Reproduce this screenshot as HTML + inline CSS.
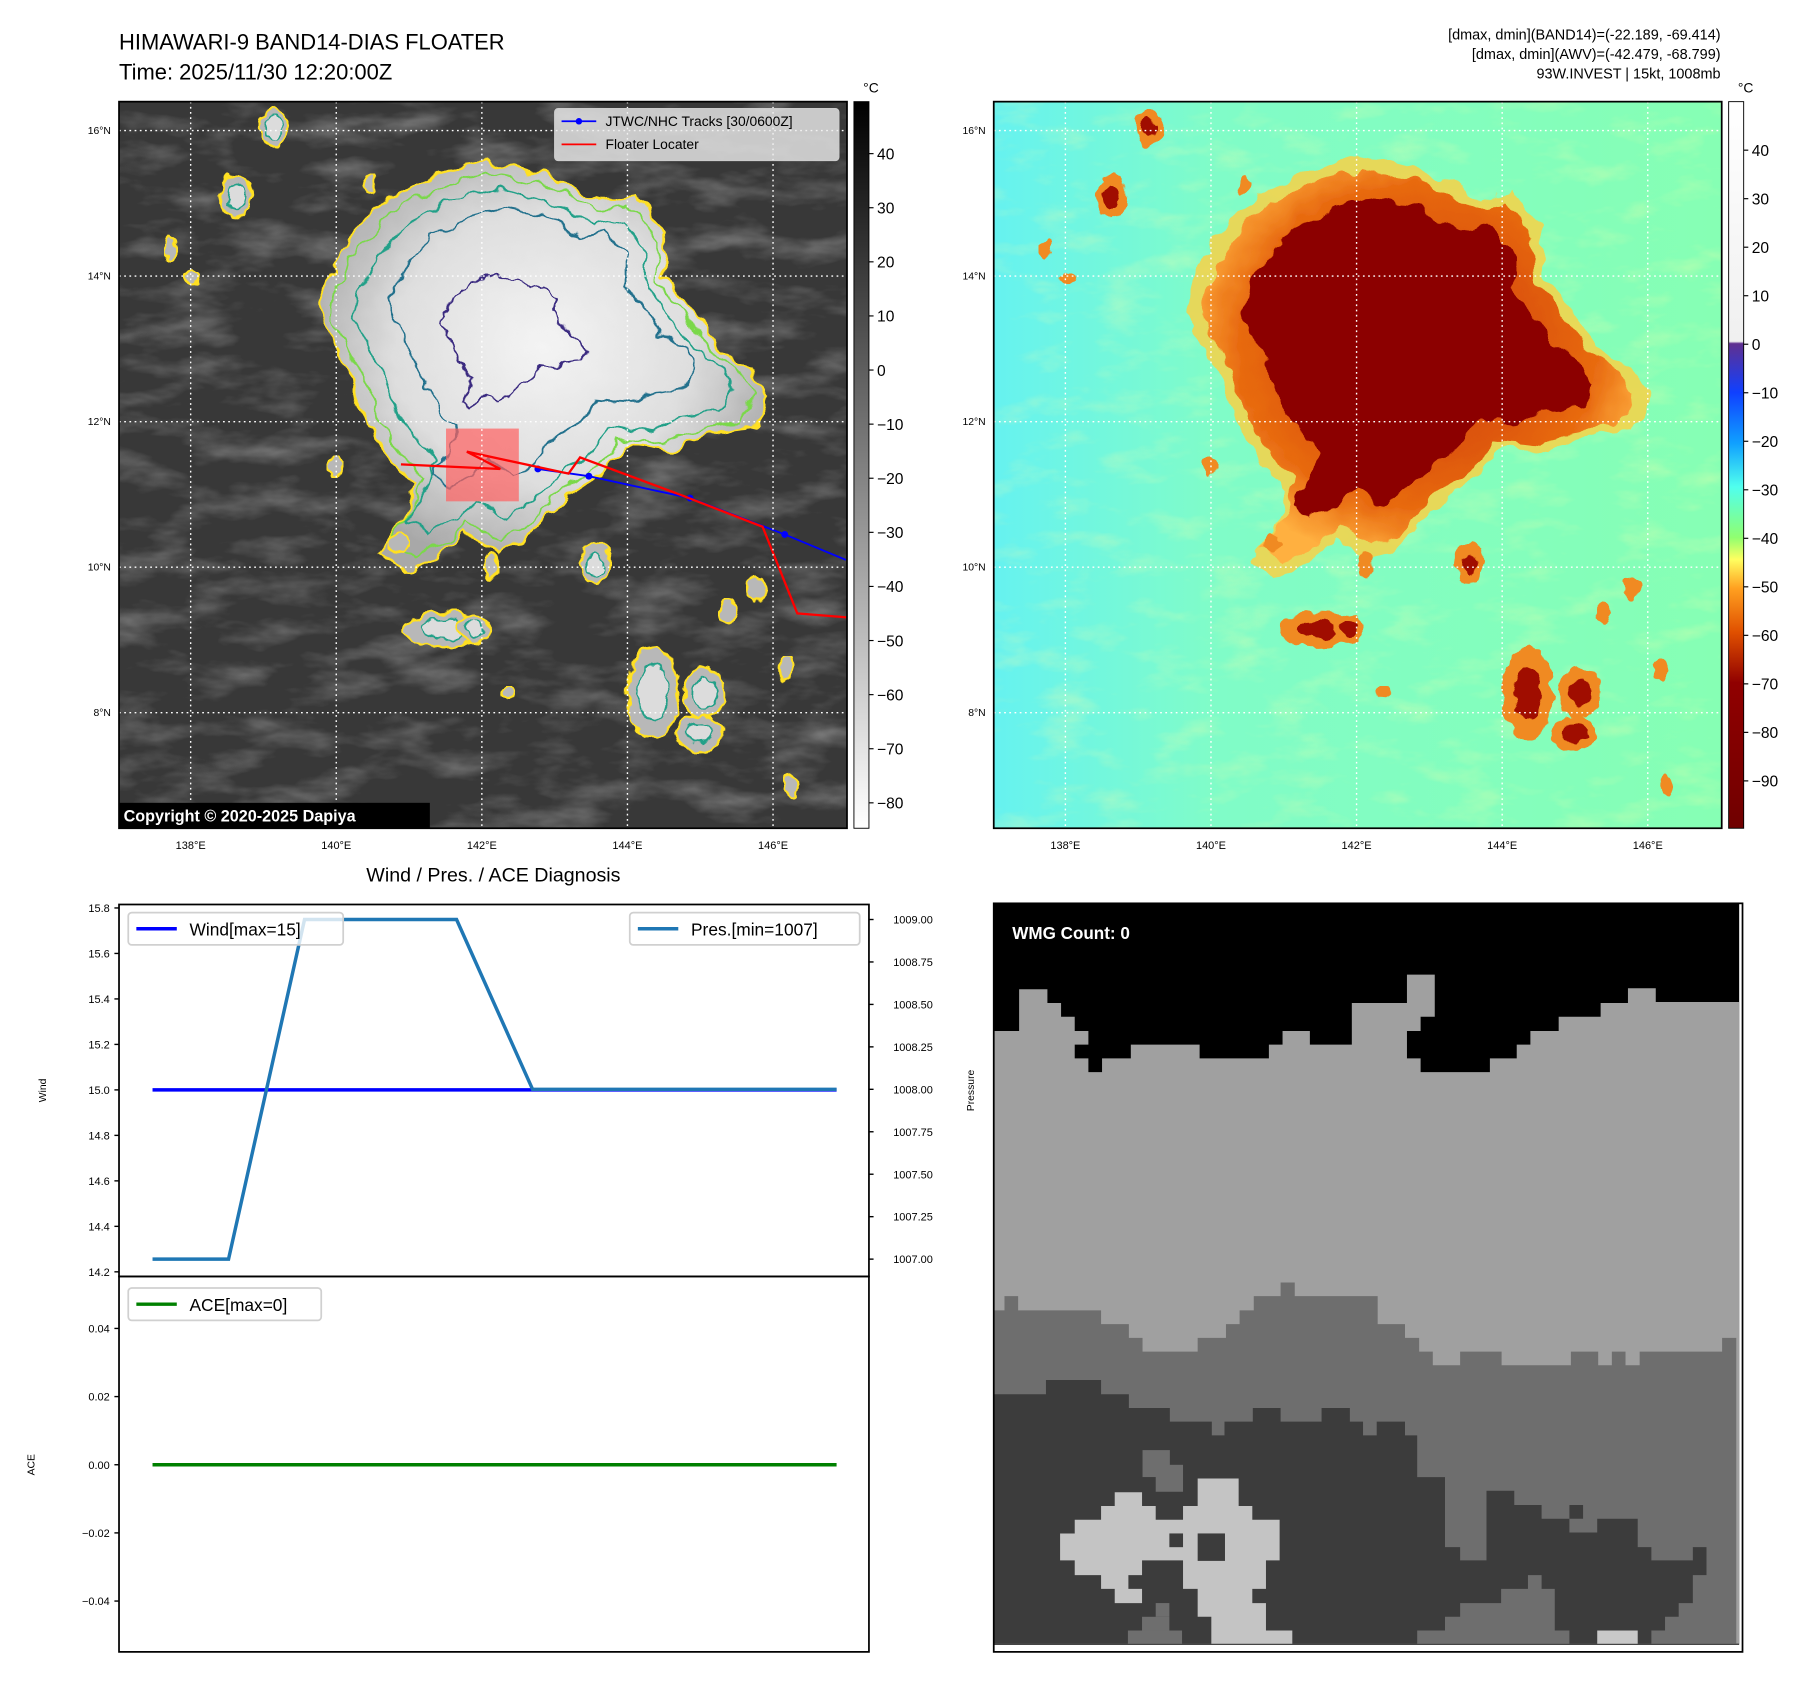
<!DOCTYPE html>
<html><head><meta charset="utf-8"><style>
html,body{margin:0;padding:0;background:#fff;}
svg{display:block;font-family:"Liberation Sans","DejaVu Sans",sans-serif;}
</style></head><body>
<svg id="fig" width="1813" height="1690" viewBox="0 0 1569 1463" preserveAspectRatio="none" xmlns="http://www.w3.org/2000/svg">
<defs>
<filter id="wob" x="-10%" y="-10%" width="120%" height="120%"><feTurbulence type="fractalNoise" baseFrequency="0.06" numOctaves="2" seed="3"/><feDisplacementMap in="SourceGraphic" scale="14" xChannelSelector="R" yChannelSelector="G"/></filter>
<filter id="wob2" x="-10%" y="-10%" width="120%" height="120%"><feTurbulence type="fractalNoise" baseFrequency="0.09" numOctaves="2" seed="7"/><feDisplacementMap in="SourceGraphic" scale="10" xChannelSelector="R" yChannelSelector="G"/></filter>
<filter id="tex"><feTurbulence type="fractalNoise" baseFrequency="0.015 0.04" numOctaves="4" seed="5"/><feColorMatrix type="matrix" values="0 0 0 0 1  0 0 0 0 1  0 0 0 0 1  1.2 0 0 0 -0.55"/></filter>
<filter id="tex2"><feTurbulence type="fractalNoise" baseFrequency="0.02 0.05" numOctaves="4" seed="9"/><feColorMatrix type="matrix" values="0 0 0 0 1  0 0 0 0 1  0 0 0 0 0.4  1.4 0 0 0 -0.7"/></filter>
<radialGradient id="stormL" cx="0.5" cy="0.45" r="0.55"><stop offset="0" stop-color="#f4f4f4"/><stop offset="0.6" stop-color="#dedede"/><stop offset="1" stop-color="#a8a8a8"/></radialGradient>
<radialGradient id="stormR" cx="0.5" cy="0.45" r="0.55"><stop offset="0" stop-color="#c83000"/><stop offset="0.75" stop-color="#e86a10"/><stop offset="1" stop-color="#ffb040"/></radialGradient>
<linearGradient id="bgR" x1="0" y1="0" x2="1" y2="0"><stop offset="0" stop-color="#66f2f0"/><stop offset="0.3" stop-color="#80fcc8"/><stop offset="1" stop-color="#86ffb4"/></linearGradient>
<linearGradient id="cbL" x1="0" y1="0" x2="0" y2="1"><stop offset="0" stop-color="#000"/><stop offset="1" stop-color="#fff"/></linearGradient>
<linearGradient id="cbR" x1="0" y1="0" x2="0" y2="1">
<stop offset="0" stop-color="#ffffff"/><stop offset="0.33" stop-color="#f0f0f0"/><stop offset="0.333" stop-color="#603090"/>
<stop offset="0.4" stop-color="#1040ff"/><stop offset="0.47" stop-color="#10a0ff"/><stop offset="0.53" stop-color="#50ffee"/>
<stop offset="0.6" stop-color="#90ff70"/><stop offset="0.63" stop-color="#ffff60"/><stop offset="0.67" stop-color="#ffa020"/>
<stop offset="0.73" stop-color="#e05000"/><stop offset="0.8" stop-color="#900000"/><stop offset="1" stop-color="#700000"/></linearGradient>
<clipPath id="clipL"><rect x="103" y="88" width="630" height="629"/></clipPath>
<clipPath id="clipR"><rect x="860" y="88" width="630" height="629"/></clipPath>
</defs>

<text x="103" y="43" font-size="19">HIMAWARI-9 BAND14-DIAS FLOATER</text>
<text x="103" y="69" font-size="19">Time: 2025/11/30 12:20:00Z</text>
<g font-size="12.5" text-anchor="end">
<text x="1489" y="34">[dmax, dmin](BAND14)=(-22.189, -69.414)</text>
<text x="1489" y="51">[dmax, dmin](AWV)=(-42.479, -68.799)</text>
<text x="1489" y="68">93W.INVEST | 15kt, 1008mb</text>
</g>

<g id="mapL" clip-path="url(#clipL)">
<rect x="103" y="88" width="630" height="629" fill="#383838"/>
<rect x="103" y="88" width="630" height="629" filter="url(#tex)" opacity="0.55"/>
<g id="stormLg"></g>
</g>
<g id="mapR" clip-path="url(#clipR)">
<rect x="860" y="88" width="630" height="629" fill="url(#bgR)"/>
<rect x="860" y="88" width="630" height="629" filter="url(#tex2)" opacity="0.5"/>
<g id="stormRg"></g>
</g>
<g id="overlays"></g>
<rect x="103" y="88" width="630" height="629" fill="none" stroke="#000" stroke-width="1.5"/>
<rect x="860" y="88" width="630" height="629" fill="none" stroke="#000" stroke-width="1.5"/>

<g>
<rect x="480" y="94" width="246" height="45" rx="3" fill="#eee" fill-opacity="0.8" stroke="#ccc"/>
<line x1="486" y1="105" x2="516" y2="105" stroke="#00f" stroke-width="1.5"/><circle cx="501" cy="105" r="2.8" fill="#00f"/>
<text x="524" y="109" font-size="12">JTWC/NHC Tracks [30/0600Z]</text>
<line x1="486" y1="125" x2="516" y2="125" stroke="#f00" stroke-width="1.5"/>
<text x="524" y="129" font-size="12">Floater Locater</text>
</g>
<g>
<rect x="103" y="695" width="269" height="22" fill="#000"/>
<text x="107" y="711" font-size="14" font-weight="bold" fill="#fff">Copyright © 2020-2025 Dapiya</text>
</g>

<rect x="739" y="88" width="13" height="629" fill="url(#cbL)" stroke="#000" stroke-width="0.8"/>
<rect x="1496" y="88" width="13" height="629" fill="url(#cbR)" stroke="#000" stroke-width="0.8"/>
<text x="747" y="80" font-size="12">°C</text>
<text x="1504" y="80" font-size="12">°C</text>
<g id="cbticks"></g>

<text x="427" y="763" font-size="17" text-anchor="middle">Wind / Pres. / ACE Diagnosis</text>
<g id="chart"></g>
<rect x="103" y="783" width="649" height="322" fill="none" stroke="#000" stroke-width="1.5"/>
<rect x="103" y="1105" width="649" height="325" fill="none" stroke="#000" stroke-width="1.5"/>
<text transform="translate(40,944) rotate(-90)" font-size="9" text-anchor="middle">Wind</text>
<text transform="translate(843,944) rotate(-90)" font-size="9" text-anchor="middle">Pressure</text>
<text transform="translate(30,1268) rotate(-90)" font-size="9" text-anchor="middle">ACE</text>

<g transform="translate(860,780) scale(0.4222,0.4244)">
<rect x="0" y="5" width="1528" height="1512" fill="#000"/>
<polygon fill="#a0a0a0" points="0,265 52,265 52,180 110,180 110,208 138,208 138,236 166,236 166,265 194,265 194,293 166,293 166,321 194,321 194,349 222,349 222,321 281,321 281,293 422,293 422,321 564,321 564,293 592,293 592,265 648,265 648,293 734,293 734,208 847,208 847,150 904,150 904,236 875,236 875,265 847,265 847,321 875,321 875,349 1017,349 1017,321 1072,321 1072,293 1100,293 1100,265 1158,265 1158,236 1244,236 1244,208 1300,208 1300,178 1357,178 1357,206 1528,206 1528,1515 0,1515"/>
<polygon fill="#6e6e6e" points="0,835 22,835 22,806 50,806 50,835 220,835 220,863 277,863 277,891 305,891 305,919 418,919 418,891 476,891 476,863 504,863 504,835 533,835 533,806 588,806 588,778 617,778 617,806 787,806 787,863 843,863 843,891 872,891 872,919 900,919 900,947 956,947 956,919 1041,919 1041,947 1183,947 1183,919 1239,919 1239,947 1267,947 1267,919 1295,919 1295,947 1324,947 1324,919 1493,919 1493,891 1522,891 1522,1515 0,1515"/>
<polygon fill="#3c3c3c" points="0,1006 107,1006 107,977 220,977 220,1006 277,1006 277,1034 361,1034 361,1062 447,1062 447,1090 473,1090 473,1062 531,1062 531,1034 588,1034 588,1062 672,1062 672,1034 730,1034 730,1062 757,1062 757,1090 785,1090 785,1062 843,1062 843,1090 868,1090 868,1175 925,1175 925,1318 956,1318 956,1345 1010,1345 1010,1203 1067,1203 1067,1232 1123,1232 1123,1260 1180,1260 1180,1288 1237,1288 1237,1260 1320,1260 1320,1318 1348,1318 1348,1345 1433,1345 1433,1318 1461,1318 1461,1375 1433,1375 1433,1432 1404,1432 1404,1460 1376,1460 1376,1488 1348,1488 1348,1515 1180,1515 1180,1488 1150,1488 1150,1403 1123,1403 1123,1375 1095,1375 1095,1403 1040,1403 1040,1432 956,1432 956,1460 925,1460 925,1488 868,1488 868,1515 0,1515"/>
<rect x="1180" y="1232" width="28" height="28" fill="#3c3c3c"/>
<g fill="#6e6e6e"><rect x="305" y="1120" width="56" height="55"/><rect x="332" y="1150" width="56" height="55"/><rect x="275" y="1488" width="111" height="27"/><rect x="304" y="1460" width="56" height="28"/><rect x="332" y="1432" width="28" height="28"/></g>
<polygon fill="#c4c4c4" points="248,1206 304,1206 304,1234 332,1234 332,1262 388,1262 388,1234 418,1234 418,1178 502,1178 502,1234 530,1234 530,1262 586,1262 586,1345 558,1345 558,1403 530,1403 530,1432 558,1432 558,1488 612,1488 612,1515 446,1515 446,1460 418,1460 418,1403 388,1403 388,1345 304,1345 304,1375 276,1375 276,1403 304,1403 304,1432 248,1432 248,1403 220,1403 220,1375 166,1375 166,1345 136,1345 136,1290 166,1290 166,1262 220,1262 220,1234 248,1234"/>
<rect x="360" y="1290" width="28" height="28" fill="#3c3c3c"/><rect x="418" y="1290" width="56" height="56" fill="#3c3c3c"/>
<rect x="1237" y="1488" width="83" height="27" fill="#c8c8c8"/>
<text x="38" y="77" font-size="35" font-weight="bold" fill="#fff">WMG Count: 0</text>
</g>
<rect x="860" y="782" width="648" height="648" fill="none" stroke="#000" stroke-width="1.5"/>
</svg>
<script>
const timeIndex = [0,1,2,3,4,5,6,7,8,9];
const windValues = [15,15,15,15,15,15,15,15,15,15];
const presValues = [1007,1007,1009,1009,1009,1008,1008,1008,1008,1008];
const aceValues = [0,0,0,0,0,0,0,0,0,0];
const windTicks = [14.2,14.4,14.6,14.8,15.0,15.2,15.4,15.6,15.8];
const presTicks = [1007.00,1007.25,1007.50,1007.75,1008.00,1008.25,1008.50,1008.75,1009.00];
const aceTicks = [-0.04,-0.02,0.00,0.02,0.04];
const irCbTicks = [40,30,20,10,0,-10,-20,-30,-40,-50,-60,-70,-80];
const awvCbTicks = [40,30,20,10,0,-10,-20,-30,-40,-50,-60,-70,-80,-90];
const latTicks = [16,14,12,10,8];
const lonTicks = [138,140,142,144,146];

const NS='http://www.w3.org/2000/svg';
function mk(tag,attrs,parent){const e=document.createElementNS(NS,tag);for(const k in attrs)e.setAttribute(k,attrs[k]);parent.appendChild(e);return e;}
const xT = i => 132 + (i-0)*(724-132)/9;
const yWind = v => 786 + (15.8-v)*(1101-786)/1.6;
const yPres = v => 796 + (1009-v)*(1090-796)/2;
const yAce = v => 1268 - v*(1268-1150)/0.04;
const fmt = (v,d)=> (v<0?'\u2212':'')+Math.abs(v).toFixed(d);

const chart=document.getElementById('chart');
windTicks.forEach(v=>{const y=yWind(v);
 const t=mk('line',{x1:99,x2:103,y1:y,y2:y,stroke:'#000','stroke-width':1.2},chart);
 
 const l=mk('text',{x:95,y:y+3.5,'font-size':9.5,'text-anchor':'end'},chart);l.textContent=v.toFixed(1);
 });
presTicks.forEach(v=>{const y=yPres(v);
 const t=mk('line',{x1:752,x2:756,y1:y,y2:y,stroke:'#000','stroke-width':1.2},chart);
 
 const l=mk('text',{x:773,y:y+3.5,'font-size':9.5},chart);l.textContent=v.toFixed(2);
 });
aceTicks.forEach(v=>{const y=yAce(v);
 const t=mk('line',{x1:99,x2:103,y1:y,y2:y,stroke:'#000','stroke-width':1.2},chart);
 
 const l=mk('text',{x:95,y:y+3.5,'font-size':9.5,'text-anchor':'end'},chart);l.textContent=fmt(v,2);
 });
const wl=mk('polyline',{points:timeIndex.map((t,i)=>xT(t)+','+yWind(windValues[i])).join(' '),fill:'none',stroke:'#0000ff','stroke-width':3},chart);

const pl=mk('polyline',{points:timeIndex.map((t,i)=>xT(t)+','+yPres(presValues[i])).join(' '),fill:'none',stroke:'#1f77b4','stroke-width':3},chart);

const al=mk('polyline',{points:timeIndex.map((t,i)=>xT(t)+','+yAce(aceValues[i])).join(' '),fill:'none',stroke:'#008000','stroke-width':3},chart);

function legend(x,y,w,color,label,name){const g=mk('g',{},chart);
 
 mk('rect',{x:x,y:y,width:w,height:28,rx:3,fill:'#fff','fill-opacity':0.8,stroke:'#d0d0d0','stroke-width':1.5},g);
 mk('line',{x1:x+7,x2:x+42,y1:y+14,y2:y+14,stroke:color,'stroke-width':3},g);
 const t=mk('text',{x:x+53,y:y+20,'font-size':15},g);t.textContent=label;}
legend(111,790,186,'#0000ff','Wind[max=15]','wind-legend');
legend(545,790,199,'#1f77b4','Pres.[min=1007]','pressure-legend');
legend(111,1115,167,'#008000','ACE[max=0]','ace-legend');

const cb=document.getElementById('cbticks');
irCbTicks.forEach(v=>{const y=133+(40-v)*(695-133)/120;
 mk('line',{x1:752,x2:756,y1:y,y2:y,stroke:'#000'},cb);
 const l=mk('text',{x:759,y:y+5,'font-size':13.5},cb);l.textContent=fmt(v,0);
 });
awvCbTicks.forEach(v=>{const y=130+(40-v)*(676-130)/130;
 mk('line',{x1:1509,x2:1513,y1:y,y2:y,stroke:'#000'},cb);
 const l=mk('text',{x:1516,y:y+5,'font-size':13.5},cb);l.textContent=fmt(v,0);
 });

const lonX = (lon,off)=> 417 + (lon-142)*63 + off;
const latY = lat => 365 - (lat-12)*63;
const ov=document.getElementById('overlays');
[0,757].forEach(off=>{
 lonTicks.forEach(lo=>{const x=lonX(lo,off);
  mk('line',{x1:x,x2:x,y1:88,y2:717,stroke:'#fff','stroke-width':1.2,'stroke-dasharray':'1.5 3'},ov);
  const l=mk('text',{x:x,y:735,'font-size':9.5,'text-anchor':'middle'},ov);l.textContent=lo+'°E';
  });
 latTicks.forEach(la=>{const y=latY(la);
  mk('line',{x1:103+off,x2:733+off,y1:y,y2:y,stroke:'#fff','stroke-width':1.2,'stroke-dasharray':'1.5 3'},ov);
  const l=mk('text',{x:96+off,y:y+3,'font-size':9,'text-anchor':'end'},ov);l.textContent=la+'°N';
  });
});

const outer=[[280,245],[300,210],[330,175],[380,150],[420,140],[470,150],[520,175],[550,170],[575,200],[575,240],[600,270],[620,300],[650,320],[665,345],[650,370],[610,375],[580,390],[540,385],[520,410],[480,440],[450,470],[430,480],[400,460],[380,480],[350,495],[330,480],[350,450],[360,420],[340,400],[320,370],[305,330],[290,300],[275,270]];
function scaled(poly,s,cx,cy,dx,dy){return poly.map(p=>[(cx+(p[0]-cx)*s+dx).toFixed(1),(cy+(p[1]-cy)*s+dy).toFixed(1)].join(',')).join(' ');}
const cells=[[237,110,12,16],[205,170,14,18],[148,215,5,10],[167,240,7,6],[290,404,6,8],[515,488,12,18],[385,545,35,15],[410,545,14,12],[565,600,22,40],[610,600,18,22],[605,635,20,15],[655,510,8,10],[630,530,8,10],[680,580,6,10],[685,680,6,10],[425,490,6,12],[440,600,6,5],[345,470,8,8],[320,160,5,8]];
const sl=document.getElementById('stormLg');
mk('polygon',{points:scaled(outer,1,470,300,0,0),fill:'url(#stormL)',filter:'url(#wob)'},sl);
mk('polygon',{points:scaled(outer,1,470,300,0,0),fill:'none',stroke:'#ffe020','stroke-width':2,filter:'url(#wob)'},sl);
mk('polygon',{points:scaled(outer,0.94,470,300,0,0),fill:'none',stroke:'#7ad84a','stroke-width':1.6,filter:'url(#wob)'},sl);
mk('polygon',{points:scaled(outer,0.84,470,290,0,0),fill:'none',stroke:'#20a088','stroke-width':1.6,filter:'url(#wob)'},sl);
mk('polygon',{points:scaled(outer,0.68,470,280,0,-5),fill:'none',stroke:'#20708c','stroke-width':1.6,filter:'url(#wob)'},sl);
mk('polygon',{points:scaled(outer,0.32,470,270,-25,10),fill:'none',stroke:'#3a2c80','stroke-width':1.6,filter:'url(#wob2)'},sl);
cells.forEach(c=>{mk('ellipse',{cx:c[0],cy:c[1],rx:c[2],ry:c[3],fill:'#b8b8b8',stroke:'#ffe020','stroke-width':2,filter:'url(#wob2)'},sl);
 if(c[2]>10) mk('ellipse',{cx:c[0],cy:c[1],rx:c[2]*0.6,ry:c[3]*0.6,fill:'#dcdcdc',stroke:'#20a088','stroke-width':1.5,filter:'url(#wob2)'},sl);});
const sr=document.getElementById('stormRg');
mk('polygon',{points:scaled(outer,1.03,470,300,757,0),fill:'#ffd040',filter:'url(#wob)',opacity:0.8},sr);
mk('polygon',{points:scaled(outer,0.96,470,300,757,0),fill:'url(#stormR)',filter:'url(#wob)'},sr);
mk('polygon',{points:scaled(outer,0.78,470,285,757,0),fill:'#8c0000',filter:'url(#wob)'},sr);
cells.forEach(c=>{mk('ellipse',{cx:c[0]+757,cy:c[1],rx:c[2],ry:c[3],fill:'#f08a20',filter:'url(#wob2)'},sr);
 if(c[2]>10) mk('ellipse',{cx:c[0]+757,cy:c[1],rx:c[2]*0.55,ry:c[3]*0.55,fill:'#a01000',filter:'url(#wob2)'},sr);});

const ml=document.getElementById('mapL');
const box=mk('rect',{x:386,y:371,width:63,height:63,fill:'#ff6060','fill-opacity':0.7},ml);

const blueLon=[142.77,143.47,144.86,146.16,147.0];
const blueLat=[11.35,11.25,10.95,10.45,10.1];
const bt=mk('polyline',{points:blueLon.map((lo,i)=>lonX(lo,0)+','+latY(blueLat[i])).join(' '),fill:'none',stroke:'#0000ff','stroke-width':1.6},ml);

blueLon.slice(0,4).forEach((lo,i)=>mk('circle',{cx:lonX(lo,0),cy:latY(blueLat[i]),r:3,fill:'#00f'},ml));
const redPts=[[347,402],[433,406],[404,391],[492,410],[502,396],[588,428],[660,456],[690,531],[740,535]];
const rt=mk('polyline',{points:redPts.map(p=>p.join(',')).join(' '),fill:'none',stroke:'#ff0000','stroke-width':2},ml);

</script>
</body></html>
